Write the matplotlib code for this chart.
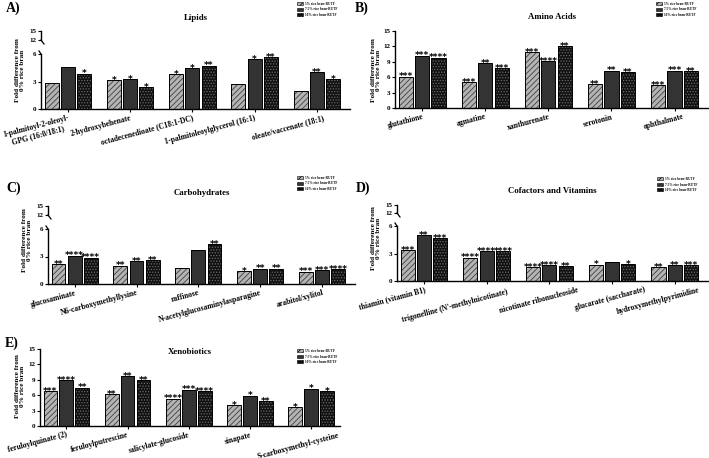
import numpy as np
import matplotlib
matplotlib.use("Agg")
import matplotlib.pyplot as plt
from matplotlib.lines import Line2D
from matplotlib.patches import Patch
from matplotlib.transforms import ScaledTranslation

W, H = 709, 458

series = ['5% rice bran-RUTF', '7.5% rice bran-RUTF', '10% rice bran-RUTF']

# A) Lipids
lipid_names = ['1-palmitoyl-2-oleoyl-\nGPG (16:0/18:1)', '2-hydroxybehenate',
               'octadecenedioate (C18:1-DC)', '1-palmitoleoylglycerol (16:1)',
               'oleate/vaccenate (18:1)']
lipid_5 = [2.8, 3.13, 3.78, 2.73, 1.96]
lipid_75 = [4.6, 3.24, 4.47, 5.45, 4.04]
lipid_10 = [3.85, 2.36, 4.73, 5.64, 3.27]
lipid_sig_5 = ['', '*', '*', '', '']
lipid_sig_75 = ['', '*', '*', '*', '**']
lipid_sig_10 = ['*', '*', '**', '**', '*']

# B) Amino Acids
amino_names = ['glutathione', 'agmatine', 'xanthurenate', 'serotonin', 'ophthalmate']
amino_5 = [6.1, 5.1, 10.9, 4.7, 4.4]
amino_75 = [10.2, 8.7, 9.2, 7.3, 7.3]
amino_10 = [9.8, 7.7, 12.1, 7.0, 7.2]
amino_sig_5 = ['***', '***', '***', '**', '***']
amino_sig_75 = ['***', '**', '****', '**', '***']
amino_sig_10 = ['****', '***', '**', '**', '**']

# C) Carbohydrates
carb_names = ['glucosaminate', 'N6-carboxymethyllysine', 'raffinose',
              'N-acetylglucosaminylasparagine', 'arabitol/xylitol']
carb_5 = [2.18, 2.0, 1.75, 1.38, 1.35]
carb_75 = [3.09, 2.47, 3.7, 1.67, 1.53]
carb_10 = [2.87, 2.62, 4.33, 1.67, 1.64]
carb_sig_5 = ['**', '**', '', '*', '***']
carb_sig_75 = ['****', '**', '', '**', '***']
carb_sig_10 = ['****', '**', '**', '**', '****']

# D) Cofactors and Vitamins
cof_names = ['thiamin (vitamin B1)', "trigonelline (N'-methylnicotinate)",
             'nicotinate ribonucleoside', 'glucarate (saccharate)',
             'hydroxymethylpyrimidine']
cof_5 = [3.4, 2.56, 1.52, 1.8, 1.55]
cof_75 = [5.0, 3.28, 1.73, 2.02, 1.7]
cof_10 = [4.7, 3.28, 1.59, 1.84, 1.77]
cof_sig_5 = ['***', '****', '****', '*', '**']
cof_sig_75 = ['**', '****', '****', '', '**']
cof_sig_10 = ['***', '****', '**', '*', '***']

# E) Xenobiotics
xeno_names = ['feruloylquinate (2)', 'feruloylputrescine', 'salicylate-glucoside',
              'sinapate', 'S-carboxymethyl-cysteine']
xeno_5 = [6.8, 6.2, 5.35, 4.0, 3.75]
xeno_75 = [9.0, 9.7, 7.1, 5.9, 7.3]
xeno_10 = [7.5, 9.0, 6.8, 4.85, 6.8]
xeno_sig_5 = ['***', '**', '****', '*', '*']
xeno_sig_75 = ['****', '**', '***', '*', '*']
xeno_sig_10 = ['**', '**', '****', '**', '*']

plt.rcParams['font.family'] = ['Liberation Serif', 'DejaVu Serif']
plt.rcParams['font.weight'] = 'bold'
plt.rcParams['hatch.linewidth'] = 0.6

fig = plt.figure(figsize=(W / 100, H / 100), dpi=100)

styles = [
    dict(color='#b4b4b4', hatch='//////', edgecolor='#404040'),
    dict(color='#333333', hatch=None, edgecolor='#333333'),
    dict(color='#111111', hatch='......', edgecolor='#6a6a6a'),
]
offsets = [-0.26, 0.0, 0.26]
bw = 0.225


def add_ax(left, right, top, bottom):
    return fig.add_axes([left / W, 1 - bottom / H, (right - left) / W, (bottom - top) / H])


def fig_line(x0, y0, x1, y1):
    fig.add_artist(Line2D([x0 / W, x1 / W], [1 - y0 / H, 1 - y1 / H],
                          transform=fig.transFigure, color='black', lw=0.9))


def draw_panel(letter, title, names, vals, sigs, left, right, low, up=None,
               title_y=0, letter_xy=(0, 0), leg_xy=(0, 0), ylab_xy=(0, 0),
               xright=4.53, nudge=None):
    ax = add_ax(left, right, low[0], low[1])
    x = np.arange(len(names))
    for i in range(3):
        st = styles[i]
        ax.bar(x + offsets[i], vals[i], bw, color=st['color'], hatch=st['hatch'],
               edgecolor=st['edgecolor'], linewidth=0)
        ax.bar(x + offsets[i], vals[i], bw, fill=False, edgecolor='black', linewidth=0.7)
        for xi, v, s in zip(x, vals[i], sigs[i]):
            if s:
                ax.annotate(s, (xi + offsets[i], v), xytext=(0, -2.0),
                            textcoords='offset points', ha='center', va='baseline',
                            fontsize=6.6, fontweight='bold', family='DejaVu Sans')
    ax.set_xlim(-0.43, xright)
    ax.spines['top'].set_visible(False)
    ax.spines['right'].set_visible(False)
    ax.spines['left'].set_linewidth(1.0)
    ax.spines['bottom'].set_linewidth(1.0)
    ax.set_xticks(x)
    ax.set_xticklabels(names, rotation=15, ha='right', rotation_mode='anchor',
                       fontsize=5.5, fontweight='bold', multialignment='center')
    ax.tick_params(axis='x', length=2, width=0.8, pad=1.5)
    ax.tick_params(axis='y', length=2.5, width=0.8, pad=1, labelsize=5)
    # some category labels sit to the right of their tick in the original
    if nudge is not None:
        for lab, (dx, dy) in zip(ax.get_xticklabels(), nudge):
            lab.set_transform(lab.get_transform() +
                              ScaledTranslation(dx / 100, -dy / 100, fig.dpi_scale_trans))
    if up is None:
        ax.set_ylim(0, 15)
        ax.set_yticks([0, 3, 6, 9, 12, 15])
    else:
        ax.set_ylim(0, 6)
        ax.set_yticks([0, 3, 6])
        ax2 = add_ax(left, right, up[0], up[1])
        ax2.set_ylim(12, 15)
        ax2.set_yticks([12, 15])
        ax2.set_xticks([])
        ax2.patch.set_visible(False)
        for sp in ['top', 'right', 'bottom']:
            ax2.spines[sp].set_visible(False)
        ax2.spines['left'].set_linewidth(1.0)
        ax2.tick_params(axis='y', length=2.5, width=0.8, pad=1, labelsize=5)
        # break marks
        fig_line(left, up[1], left + 3, up[1] + 4)
        fig_line(left - 2, low[0] - 3, left, low[0])

    cx = (left + right) / 2
    fig.text(cx / W, 1 - title_y / H, title, ha='center', va='center',
             fontsize=6.3, fontweight='bold')
    fig.text(letter_xy[0] / W, 1 - letter_xy[1] / H, letter, ha='center', va='center',
             fontsize=10, fontweight='bold')
    fig.text(ylab_xy[0] / W, 1 - ylab_xy[1] / H, 'Fold difference from\n0% rice bran',
             rotation=90, ha='center', va='center', fontsize=5.2, fontweight='bold',
             linespacing=1.0)
    handles = [Patch(facecolor=st['color'], hatch=st['hatch'], edgecolor='black',
                     linewidth=0.4) for st in styles]
    fig.legend(handles, series, loc='upper left',
               bbox_to_anchor=(leg_xy[0] / W, 1 - leg_xy[1] / H),
               bbox_transform=fig.transFigure, frameon=False, fontsize=2.4,
               handlelength=1.8, handleheight=0.9, handletextpad=0.5, labelspacing=0.45,
               borderpad=0, borderaxespad=0)


draw_panel('A)', 'Lipids', lipid_names, [lipid_5, lipid_75, lipid_10],
           [lipid_sig_5, lipid_sig_75, lipid_sig_10], 41, 350, (54, 109), (31, 40),
           title_y=18, letter_xy=(13, 8), leg_xy=(297, 2), ylab_xy=(20, 70),
           nudge=[(0, 0), (0, 0), (0, 0), (0, 0), (6, 0)])
draw_panel('B)', 'Amino Acids', amino_names, [amino_5, amino_75, amino_10],
           [amino_sig_5, amino_sig_75, amino_sig_10], 395, 708, (31, 108),
           title_y=17, letter_xy=(362, 8), leg_xy=(656, 2), ylab_xy=(376, 70),
           nudge=[(0, 0), (0, 0), (0, 0), (0, 0), (8, 0)])
draw_panel('C)', 'Carbohydrates', carb_names, [carb_5, carb_75, carb_10],
           [carb_sig_5, carb_sig_75, carb_sig_10], 48, 355, (229, 284), (206, 215),
           title_y=193, letter_xy=(14, 188), leg_xy=(297, 176), ylab_xy=(27, 240))
draw_panel('D)', 'Cofactors and Vitamins', cof_names, [cof_5, cof_75, cof_10],
           [cof_sig_5, cof_sig_75, cof_sig_10], 397, 708, (226, 281), (205, 213),
           title_y=191, letter_xy=(363, 188), leg_xy=(657, 177), ylab_xy=(376, 238),
           nudge=[(0, 0), (20, 2), (28, 0), (32, 0), (24, 0)])
draw_panel('E)', 'Xenobiotics', xeno_names, [xeno_5, xeno_75, xeno_10],
           [xeno_sig_5, xeno_sig_75, xeno_sig_10], 40, 340, (349, 426),
           title_y=352, letter_xy=(12, 343), leg_xy=(297, 349), ylab_xy=(20, 386),
           xright=4.47, nudge=[(0, 0), (0, 0), (0, 0), (0, 0), (27, 1)])

fig.savefig('out.png', dpi=100)
